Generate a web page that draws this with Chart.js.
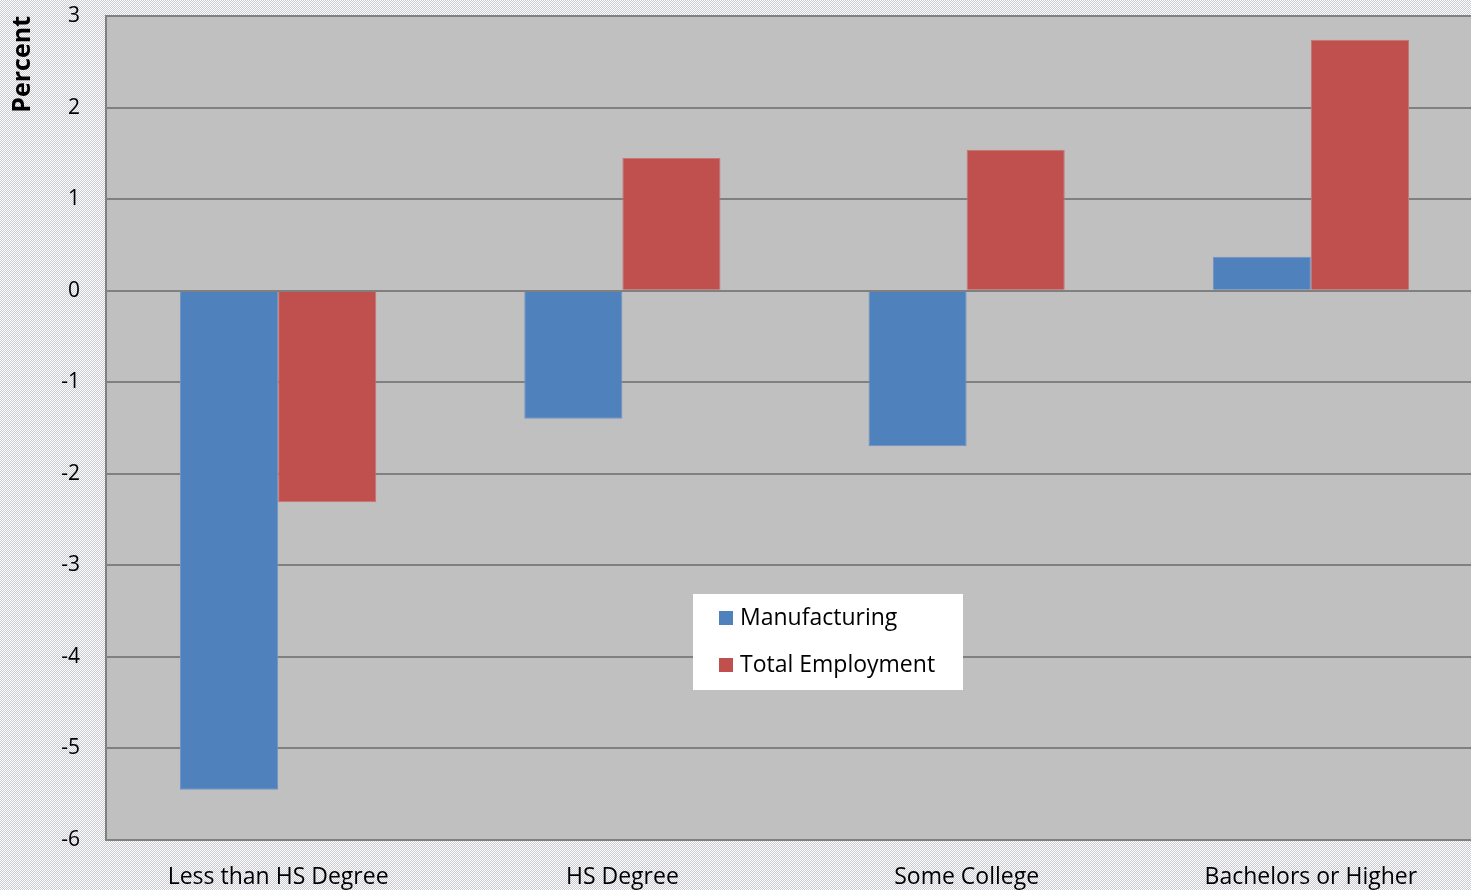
<!DOCTYPE html>
<html>
<head>
<meta charset="utf-8">
<script src="https://cdn.jsdelivr.net/npm/chart.js@4/dist/chart.umd.min.js"></script>
<style>
  html, body {
    margin: 0;
    padding: 0;
    width: 1471px;
    height: 890px;
    overflow: hidden;
    background-color: #ffffff;
    background-image: repeating-conic-gradient(#c9c9d2 0% 25%, #ffffff 0% 50%);
    background-size: 2px 2px;
  }
  /* the plot runs past the right edge of the picture */
  #wrap { position: absolute; left: 0; top: 0; width: 1483px; height: 890px; }
</style>
</head>
<body>
<div id="wrap"><canvas id="eduChart"></canvas></div>
<script>
// categories and values
const categories = ['Less than HS Degree', 'HS Degree', 'Some College', 'Bachelors or Higher'];
const manufacturing = [-5.45, -1.40, -1.70, 0.37];
const totalEmployment = [-2.31, 1.45, 1.54, 2.74];
const seriesNames = ['Manufacturing', 'Total Employment'];

const FONT = '"Open Sans", "Noto Sans", sans-serif';

// grey plot area
const plotBg = {
    id: 'plotBg',
    beforeDraw(chart) {
        const { ctx, chartArea: a } = chart;
        ctx.save();
        ctx.fillStyle = '#c0c0c0';
        ctx.fillRect(a.left, a.top, a.right - a.left, a.bottom - a.top);
        ctx.restore();
    }
};

// legend box sitting inside the plot
const boxLegend = {
    id: 'boxLegend',
    afterDraw(chart) {
        const ctx = chart.ctx;
        const x = 693, y = 594, w = 270, h = 96;
        ctx.save();
        ctx.fillStyle = '#ffffff';
        ctx.fillRect(x, y, w, h);
        ctx.font = '23px ' + FONT;
        ctx.textBaseline = 'middle';
        chart.data.datasets.forEach((ds, i) => {
            const cy = y + 24 + i * 47;
            ctx.fillStyle = ds.backgroundColor;
            ctx.fillRect(x + 26, cy - 7, 14, 14);
            ctx.fillStyle = '#000000';
            ctx.fillText(ds.label, x + 47, cy);
        });
        ctx.restore();
    }
};

new Chart(document.getElementById('eduChart'), {
    type: 'bar',
    data: {
        labels: categories,
        datasets: [
            {
                label: seriesNames[0],
                data: manufacturing,
                backgroundColor: '#4f81bd',
                borderColor: '#6f93c4',
                borderWidth: 1
            },
            {
                label: seriesNames[1],
                data: totalEmployment,
                backgroundColor: '#c0504d',
                borderColor: '#c77472',
                borderWidth: 1
            }
        ]
    },
    options: {
        responsive: true,
        maintainAspectRatio: false,
        animation: false,
        layout: { padding: { top: 16, right: 0, left: 0, bottom: 0 } },
        datasets: {
            bar: { categoryPercentage: 0.57, barPercentage: 1.0 }
        },
        plugins: {
            legend: { display: false },
            tooltip: { enabled: false }
        },
        scales: {
            x: {
                grid: { display: false, drawTicks: false },
                border: { color: '#808080', width: 2 },
                ticks: {
                    color: '#000000',
                    font: { family: FONT, size: 23 },
                    padding: 24,
                    maxRotation: 0
                },
                afterFit(scale) {
                    scale.height = 50;
                    scale.paddingLeft = 0;
                    scale.paddingRight = 0;
                }
            },
            y: {
                min: -6,
                max: 3,
                grid: { color: '#808080', lineWidth: 2, drawTicks: false },
                border: { color: '#808080', width: 2 },
                ticks: {
                    stepSize: 1,
                    color: '#000000',
                    font: { family: FONT, size: 21 },
                    padding: 26
                },
                title: {
                    display: true,
                    text: 'Percent',
                    align: 'end',
                    color: '#000000',
                    font: { family: FONT, size: 25, weight: 'bold' },
                    padding: { top: 8, bottom: 0 }
                },
                afterFit(scale) {
                    scale.width = 106;
                    scale.paddingTop = 0;
                    scale.paddingBottom = 0;
                }
            }
        }
    },
    plugins: [plotBg, boxLegend]
});
</script>
</body>
</html>
